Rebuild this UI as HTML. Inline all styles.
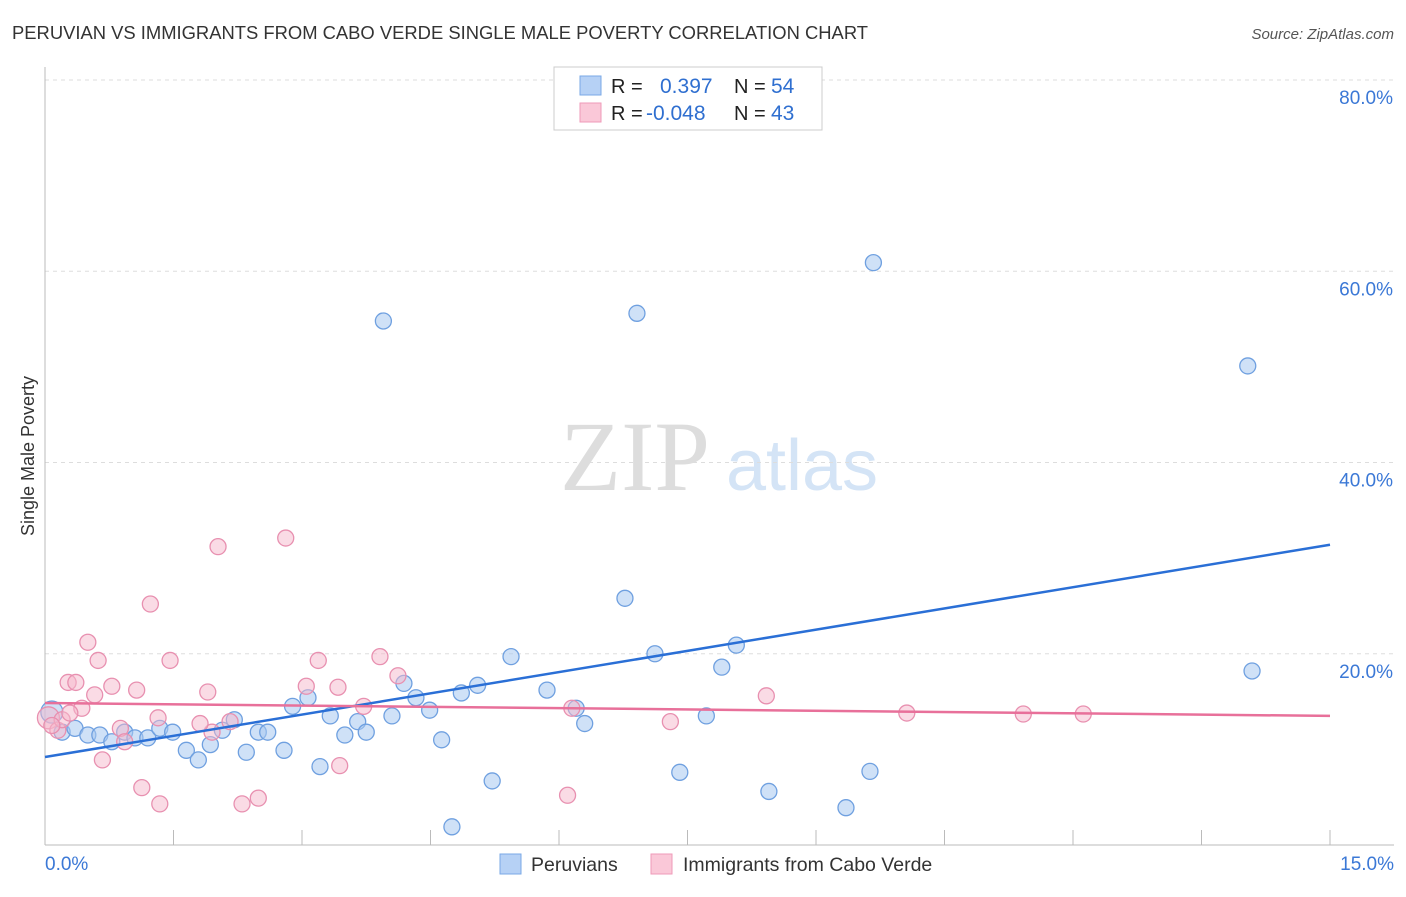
<!DOCTYPE html>
<html><head><meta charset="utf-8"><style>
body{margin:0;background:#fff;font-family:"Liberation Sans",sans-serif}
</style></head><body>
<svg id="c" width="1406" height="892" xmlns="http://www.w3.org/2000/svg" font-family="Liberation Sans, sans-serif">
<text x="12" y="39" font-size="18.4" fill="#333">PERUVIAN VS IMMIGRANTS FROM CABO VERDE SINGLE MALE POVERTY CORRELATION CHART</text>
<text x="1394" y="39" font-size="15" fill="#555" font-style="italic" text-anchor="end">Source: ZipAtlas.com</text>
<g><text x="635" y="490" font-size="100" fill="#ddd" style="font-family:'Liberation Serif',serif" text-anchor="middle">ZIP</text><text x="802" y="490" font-size="72" fill="#d4e4f6" text-anchor="middle">atlas</text></g>
<g id="grid"></g><g id="axes"></g><g id="marks"></g>
<text transform="translate(34,456) rotate(-90)" font-size="18" fill="#333" text-anchor="middle">Single Male Poverty</text>
<g>
<rect x="554" y="67" width="268" height="63" fill="#fff" stroke="#ccc"/>
<rect x="580" y="76" width="21" height="19" fill="#b6d1f5" stroke="#7aa8e6"/>
<rect x="580" y="103" width="21" height="19" fill="#fac8d8" stroke="#ef9ab8"/>
<text x="611" y="93" font-size="20" fill="#222">R =</text><text x="660" y="93" font-size="21" fill="#2f6fd0">0.397</text>
<text x="734" y="93" font-size="20" fill="#222">N =</text><text x="771" y="93" font-size="21" fill="#2f6fd0">54</text>
<text x="611" y="120" font-size="20" fill="#222">R =</text><text x="646" y="120" font-size="21" fill="#2f6fd0">-0.048</text>
<text x="734" y="120" font-size="20" fill="#222">N =</text><text x="771" y="120" font-size="21" fill="#2f6fd0">43</text>
</g>
<g>
<rect x="500" y="854" width="21" height="20" fill="#b6d1f5" stroke="#7aa8e6"/>
<text x="531" y="871" font-size="19.5" fill="#333">Peruvians</text>
<rect x="651" y="854" width="21" height="20" fill="#fac8d8" stroke="#ef9ab8"/>
<text x="683" y="871" font-size="19.5" fill="#333">Immigrants from Cabo Verde</text>
</g>
</svg>
<script>
const yTicks=[20,40,60,80];
const yTickLabels=["20.0%","40.0%","60.0%","80.0%"];
const xTickLabels=["0.0%","15.0%"];
const blueX=[0.08,0.20,0.35,0.50,0.64,0.78,0.93,1.05,1.20,1.34,1.49,1.65,1.79,1.93,2.07,2.21,2.35,2.49,2.60,2.79,2.89,3.07,3.21,3.33,3.50,3.65,3.75,3.95,4.05,4.19,4.33,4.49,4.63,4.75,4.86,5.05,5.22,5.44,5.86,6.20,6.30,6.77,6.91,7.12,7.41,7.72,7.90,8.07,8.45,9.35,9.63,9.67,14.04,14.09];
const blueY=[13.9,11.8,12.2,11.5,11.5,10.8,11.8,11.2,11.2,12.2,11.8,9.9,8.9,10.5,12.0,13.1,9.7,11.8,11.8,9.9,14.5,15.4,8.2,13.5,11.5,12.9,11.8,54.8,13.5,16.9,15.4,14.1,11.0,1.9,15.9,16.7,6.7,19.7,16.2,14.3,12.7,25.8,55.6,20.0,7.6,13.5,18.6,20.9,5.6,3.9,7.7,60.9,50.1,18.2];
const pinkX=[0.04,0.15,0.20,0.27,0.36,0.43,0.50,0.58,0.62,0.67,0.78,0.88,0.93,1.07,1.13,1.23,1.32,1.34,1.46,1.90,1.95,2.02,2.16,2.30,2.49,2.81,3.05,3.19,3.42,3.44,3.72,3.91,4.12,6.10,6.15,7.30,8.42,10.06,11.42,12.12,0.08,0.29,1.81];
const pinkY=[13.3,12.0,13.1,17.0,17.0,14.3,21.2,15.7,19.3,8.9,16.6,12.2,10.8,16.2,6.0,25.2,13.3,4.3,19.3,16.0,11.8,31.2,12.9,4.3,4.9,32.1,16.6,19.3,16.5,8.3,14.5,19.7,17.7,5.2,14.3,12.9,15.6,13.8,13.7,13.7,12.5,13.8,12.7];
const blueLine=[9.2,31.4];
const pinkLine=[14.85,13.5];
const NS="http://www.w3.org/2000/svg";
const X=v=>45+v*(1285/15), Y=v=>845-v*9.5625;
function mk(p,t,a){const e=document.createElementNS(NS,t);for(const k in a)e.setAttribute(k,a[k]);p.appendChild(e);return e;}
const grid=document.getElementById('grid'),axes=document.getElementById('axes'),marks=document.getElementById('marks');
yTicks.forEach((t,i)=>{
 const l=mk(grid,'line',{x1:45,x2:1394,y1:Y(t),y2:Y(t),stroke:'#ddd','stroke-dasharray':'4,4'});
 
 
 const tx=mk(axes,'text',{x:1393,y:Y(t)+24,'font-size':19,fill:'#3b78d6','text-anchor':'end'});
 tx.textContent=yTickLabels[i];
 
 
});
const al=mk(axes,'line',{x1:45,x2:45,y1:67,y2:845,stroke:'#bbb'});


const bl=mk(axes,'line',{x1:45,x2:1394,y1:845,y2:845,stroke:'#bbb'});


for(let i=1;i<=10;i++){const t=mk(axes,'line',{x1:X(i*1.5),x2:X(i*1.5),y1:830,y2:845,stroke:'#bbb'});
 
 }
const x0=mk(axes,'text',{x:45,y:870,'font-size':19,fill:'#3b78d6'});x0.textContent=xTickLabels[0];


const x1=mk(axes,'text',{x:1394,y:870,'font-size':19,fill:'#3b78d6','text-anchor':'end'});x1.textContent=xTickLabels[1];


blueX.forEach((v,i)=>{const c=mk(marks,'circle',{cx:X(v),cy:Y(blueY[i]),r:i==0?11:8,fill:'rgba(168,200,240,0.55)',stroke:'#6fa0e0','stroke-width':1.3});
 
 });
pinkX.forEach((v,i)=>{const c=mk(marks,'circle',{cx:X(v),cy:Y(pinkY[i]),r:i==0?11:8,fill:'rgba(245,184,204,0.5)',stroke:'#e890b0','stroke-width':1.3});
 
 });
const b=mk(marks,'line',{x1:X(0),y1:Y(blueLine[0]),x2:X(15),y2:Y(blueLine[1]),stroke:'#2a6fd6','stroke-width':2.5});


const p=mk(marks,'line',{x1:X(0),y1:Y(pinkLine[0]),x2:X(15),y2:Y(pinkLine[1]),stroke:'#e8709a','stroke-width':2.5});


</script>
</body></html>
